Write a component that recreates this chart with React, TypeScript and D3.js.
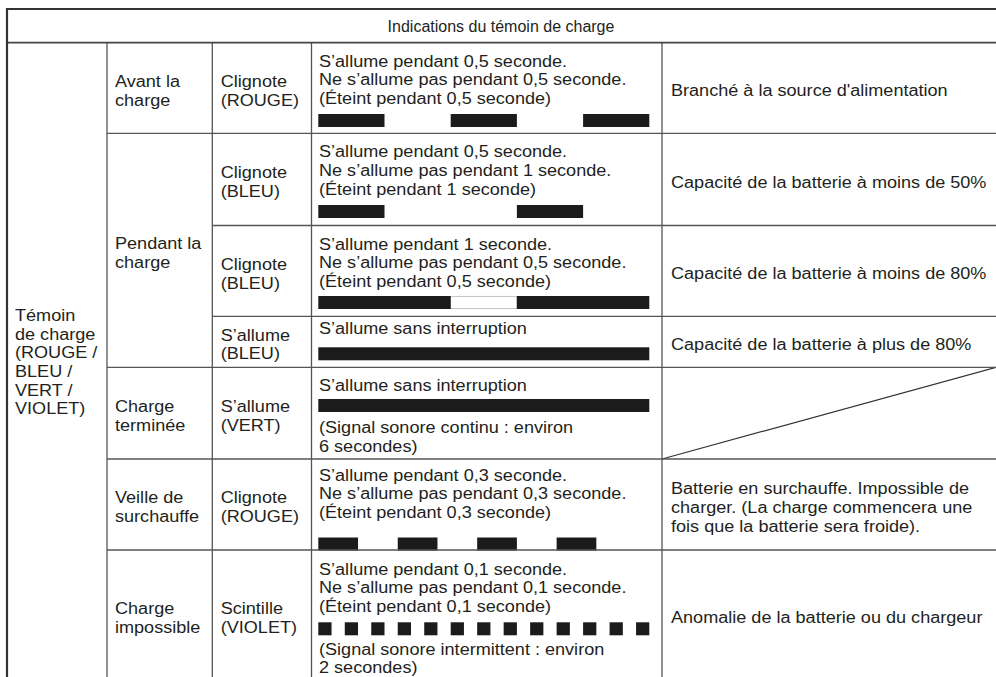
import React from 'react';
import * as d3 from 'd3';

// --- table content ---
const title = 'Indications du témoin de charge';

const indicatorLabel = ['Témoin', 'de charge', '(ROUGE /', 'BLEU /', 'VERT /', 'VIOLET)'];

const phaseLabels = [
  ['Avant la', 'charge'],
  ['Pendant la', 'charge'],
  ['Charge', 'terminée'],
  ['Veille de', 'surchauffe'],
  ['Charge', 'impossible'],
];
// rows covered by each phase [first, last]
const phaseRows = [[0, 0], [1, 3], [4, 4], [5, 5], [6, 6]];

const stateLabels = [
  ['Clignote', '(ROUGE)'],
  ['Clignote', '(BLEU)'],
  ['Clignote', '(BLEU)'],
  ['S’allume', '(BLEU)'],
  ['S’allume', '(VERT)'],
  ['Clignote', '(ROUGE)'],
  ['Scintille', '(VIOLET)'],
];

// '#' = where the light pattern strip goes
const descLines = [
  ['S’allume pendant 0,5 seconde.', 'Ne s’allume pas pendant 0,5 seconde.', '(Éteint pendant 0,5 seconde)', '#'],
  ['S’allume pendant 0,5 seconde.', 'Ne s’allume pas pendant 1 seconde.', '(Éteint pendant 1 seconde)', '#'],
  ['S’allume pendant 1 seconde.', 'Ne s’allume pas pendant 0,5 seconde.', '(Éteint pendant 0,5 seconde)', '#'],
  ['S’allume sans interruption', '#'],
  ['S’allume sans interruption', '#', '(Signal sonore continu : environ', '6 secondes)'],
  ['S’allume pendant 0,3 seconde.', 'Ne s’allume pas pendant 0,3 seconde.', '(Éteint pendant 0,3 seconde)', '#'],
  ['S’allume pendant 0,1 seconde.', 'Ne s’allume pas pendant 0,1 seconde.', '(Éteint pendant 0,1 seconde)', '#', '(Signal sonore intermittent : environ', '2 secondes)'],
];

// "on" intervals in seconds
const pulsesAvant = [[0, 0.5], [1, 1.5], [2, 2.5]];
const pulsesBleu50 = [[0, 0.5], [1.5, 2]];
const pulsesBleu80 = [[0, 1], [1.5, 2.5]];
const pulsesBleuPlein = [[0, 2.5]];
const pulsesVert = [[0, 2.5]];
const pulsesSurchauffe = [[0, 0.3], [0.6, 0.9], [1.2, 1.5], [1.8, 2.1]];
const pulsesImpossible = [
  [0, 0.1], [0.2, 0.3], [0.4, 0.5], [0.6, 0.7], [0.8, 0.9], [1.0, 1.1], [1.2, 1.3],
  [1.4, 1.5], [1.6, 1.7], [1.8, 1.9], [2.0, 2.1], [2.2, 2.3], [2.4, 2.5],
];
const pulses = [pulsesAvant, pulsesBleu50, pulsesBleu80, pulsesBleuPlein, pulsesVert, pulsesSurchauffe, pulsesImpossible];
const timeDomain = [0, 2.5];

const meanings = [
  ['Branché à la source d\'alimentation'],
  ['Capacité de la batterie à moins de 50%'],
  ['Capacité de la batterie à moins de 80%'],
  ['Capacité de la batterie à plus de 80%'],
  null,
  ['Batterie en surchauffe. Impossible de', 'charger. (La charge commencera une', 'fois que la batterie sera froide).'],
  ['Anomalie de la batterie ou du chargeur'],
];

// --- layout ---
const W = 996;
const H = 677;
const COL = [7, 107, 212.3, 311.5, 662, 999];
const TOP = 9;
const ROW_Y = [42.7, 133.3, 225.5, 316.3, 367.3, 459, 550, 680];
const LH = 18.7;
const BAR_H = 13;
const SX = 1.13; // body text is set a little wide
// y offset (from row top) of each item in the description column
const descY = [
  [24, 42.7, 61.4, 71.3],
  [24, 42.7, 61.4, 71.7],
  [24.2, 42.9, 61.6, 70.5],
  [17.5, 31],
  [23.7, 31.7, 65.7, 84.4],
  [21.5, 40.2, 58.9, 78.5],
  [24.5, 43.2, 61.9, 72.3, 104.5, 123.2],
];

const FONT = '"Liberation Sans", Arial, Helvetica, sans-serif';
const INK = '#231f20';
const RULE = '#555';

const Txt = ({ x, y, s }: { x: number; y: number; s: string }) => (
  <text transform={`translate(${x},${y}) scale(${SX},1)`}>{s}</text>
);

const block = (lines: string[], cy: number, x: number, key: string) =>
  lines.map((s, i) => (
    <Txt key={key + i} x={x} y={cy - ((lines.length - 1) * LH) / 2 + 8.3 + i * LH} s={s} />
  ));

export default function App() {
  const x = d3.scaleLinear().domain(timeDomain).range([318.3, 649.3]);
  const mid = (a: number, b: number) => (a + b) / 2;

  return (
    <svg width={W} height={H} style={{ position: 'absolute', left: 0, top: 0, background: '#fff' }}
      fontFamily={FONT} fontSize={16} fill={INK}>
      <rect x={0} y={0} width={W} height={H} fill="#fff" />

      {/* title */}
      <text x={mid(COL[0], COL[5]) - 2} y={31.5} textAnchor="middle">{title}</text>

      {/* indicator column */}
      {block(indicatorLabel, mid(ROW_Y[0], ROW_Y[7]) - 2, COL[0] + 8, 'ind')}

      {/* phases */}
      {phaseLabels.map((lines, i) => {
        const [a, b] = phaseRows[i];
        return <g key={'ph' + i}>{block(lines, mid(ROW_Y[a], ROW_Y[b + 1]), COL[1] + 8, 'ph' + i)}</g>;
      })}

      {/* states */}
      {stateLabels.map((lines, i) => (
        <g key={'st' + i}>{block(lines, mid(ROW_Y[i], ROW_Y[i + 1]), COL[2] + 8.4, 'st' + i)}</g>
      ))}

      {/* descriptions + pulse strips */}
      {descLines.map((items, r) => (
        <g key={'d' + r}>
          {items.map((s, k) => {
            const y = ROW_Y[r] + descY[r][k];
            if (s !== '#') return <Txt key={k} x={COL[3] + 7.5} y={y} s={s} />;
            const on = pulses[r];
            const gaps = on.slice(1).map((p, j) => [on[j][1], p[0]]);
            return (
              <g key={k}>
                {r === 2 && gaps.map((g, j) => (
                  <rect key={'g' + j} x={x(g[0])} y={y + 0.3} width={x(g[1]) - x(g[0])} height={BAR_H - 0.6}
                    fill="#fff" stroke="#aaa" strokeWidth={0.7} />
                ))}
                {on.map((p, j) => (
                  <rect key={j} x={x(p[0])} y={y} width={x(p[1]) - x(p[0])} height={BAR_H} fill="#1b1b1b" />
                ))}
              </g>
            );
          })}
        </g>
      ))}

      {/* meanings */}
      {meanings.map((lines, i) => lines && (
        <g key={'m' + i}>{block(lines, mid(ROW_Y[i], ROW_Y[i + 1]), COL[4] + 9, 'm' + i)}</g>
      ))}
      {/* diagonal for empty cell */}
      <line x1={COL[4]} y1={ROW_Y[5]} x2={COL[5] - 3} y2={ROW_Y[4]} stroke="#333" strokeWidth={1.2} />

      {/* rules */}
      <g stroke={RULE} strokeWidth={1.3} fill="none">
        {ROW_Y.slice(1, 7).map((y, i) => {
          const r = i + 1; // rule above row r
          const phaseStart = phaseRows.some(p => p[0] === r);
          return <line key={'h' + i} x1={phaseStart ? COL[1] : COL[2]} y1={y} x2={COL[5]} y2={y} />;
        })}
        {COL.slice(1, 5).map((c, i) => (
          <line key={'v' + i} x1={c} y1={ROW_Y[0]} x2={c} y2={H + 5} />
        ))}
      </g>
      <line x1={COL[0]} y1={ROW_Y[0]} x2={COL[5]} y2={ROW_Y[0]} stroke="#444" strokeWidth={1.8} />
      <line x1={COL[0] - 1} y1={TOP} x2={COL[5]} y2={TOP} stroke="#333" strokeWidth={2.2} />
      <line x1={COL[0]} y1={TOP} x2={COL[0]} y2={H + 5} stroke="#333" strokeWidth={2.2} />
    </svg>
  );
}
